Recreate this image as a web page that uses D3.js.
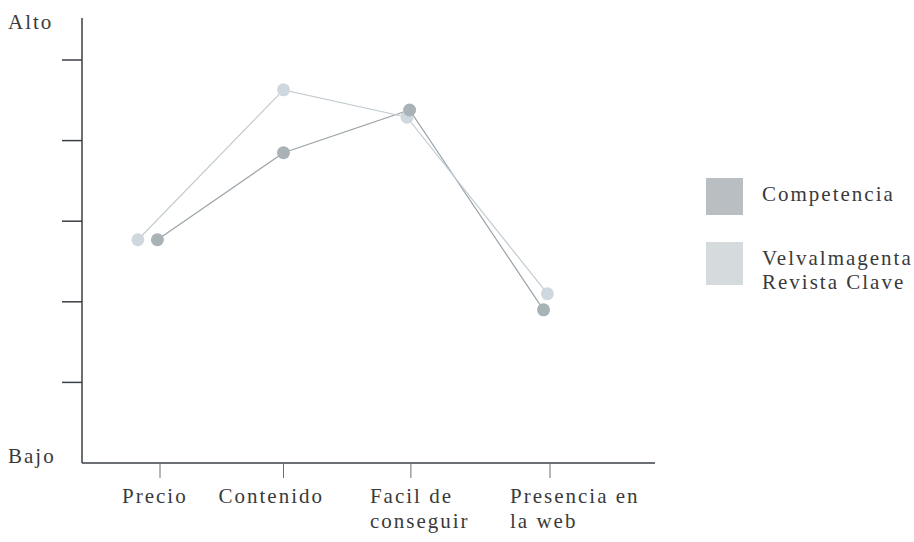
<!DOCTYPE html>
<html>
<head>
<meta charset="utf-8">
<script src="https://cdn.jsdelivr.net/npm/d3@7"></script>
<style>
  body { margin: 0; background: #fff; }
  text { font-family: 'Liberation Serif', 'DejaVu Serif', serif; fill: #3a3a3a; letter-spacing: 2px; }
</style>
</head>
<body>
<div id="chart"></div>
<script>
// categories and where their ticks sit on the x scale
const categories = [['Precio'], ['Contenido'], ['Facil de', 'conseguir'], ['Presencia en', 'la web']]
const categoryPos = [1, 1.95, 2.93, 4]

// series (x in category units, y on a 0 = Bajo .. 5.5 = Alto scale)
const seriesNames = ['Competencia', 'Velvalmagenta Revista Clave']
const competenciaX = [0.98, 1.95, 2.92, 3.95]
const competenciaY = [2.77, 3.85, 4.38, 1.9]
const velvaX = [0.83, 1.95, 2.9, 3.98]
const velvaY = [2.77, 4.63, 4.29, 2.1]

const yTicks = [1, 2, 3, 4, 5]

const width = 914
const height = 542
const fontSize = 21

const svg = d3
  .select('#chart')
  .append('svg')
  .attr('width', width)
  .attr('height', height)

const x = d3.scaleLinear().domain([1, 4]).range([160, 550])
const y = d3.scaleLinear().domain([0, 5]).range([463, 60])

const axisLeft = 82
const axisRight = 655
const axisTop = y(5.52)

// axes
svg.append('line')
  .attr('x1', axisLeft).attr('x2', axisLeft)
  .attr('y1', axisTop).attr('y2', y(0))
  .attr('stroke', '#3a3f44').attr('stroke-width', 1.5)

svg.append('line')
  .attr('x1', axisLeft).attr('x2', axisRight)
  .attr('y1', y(0)).attr('y2', y(0))
  .attr('stroke', '#3a3f44').attr('stroke-width', 1.5)

svg.selectAll('.ytick')
  .data(yTicks)
  .enter()
  .append('line')
  .attr('class', 'ytick')
  .attr('x1', axisLeft - 20).attr('x2', axisLeft)
  .attr('y1', d => y(d)).attr('y2', d => y(d))
  .attr('stroke', '#3a3f44').attr('stroke-width', 1.5)

svg.selectAll('.xtick')
  .data(categoryPos)
  .enter()
  .append('line')
  .attr('class', 'xtick')
  .attr('x1', d => x(d)).attr('x2', d => x(d))
  .attr('y1', y(0)).attr('y2', y(0) + 15)
  .attr('stroke', '#6a7075').attr('stroke-width', 1)

svg.append('text').text('Alto')
  .attr('x', 8).attr('y', 29).attr('font-size', fontSize)
svg.append('text').text('Bajo')
  .attr('x', 8).attr('y', 463).attr('font-size', fontSize)

// category labels, left aligned a bit before their tick
const labelDx = [-38, -65, -41, -40]
categories.forEach((lines, i) => {
  const t = svg.append('text')
    .attr('x', x(categoryPos[i]) + labelDx[i])
    .attr('y', 503)
    .attr('font-size', fontSize)
  lines.forEach((l, j) => {
    t.append('tspan')
      .attr('x', x(categoryPos[i]) + labelDx[i])
      .attr('dy', j === 0 ? 0 : 25)
      .text(l)
  })
})

// series
const series = [
  { name: seriesNames[0], xs: competenciaX, ys: competenciaY, line: '#9ba3a8', fill: '#a9b2b7' },
  { name: seriesNames[1], xs: velvaX, ys: velvaY, line: '#c3ccd2', fill: '#cfd8de' }
]

const line = d3.line()
  .x(d => x(d[0]))
  .y(d => y(d[1]))

series.forEach(s => {
  const pts = s.xs.map((v, i) => [v, s.ys[i]])
  svg.append('path')
    .datum(pts)
    .attr('d', line)
    .attr('fill', 'none')
    .attr('stroke', s.line)
    .attr('stroke-width', 1.2)
})

// light series markers first, dark on top
series.slice().reverse().forEach(s => {
  const pts = s.xs.map((v, i) => [v, s.ys[i]])
  svg.selectAll(null)
    .data(pts)
    .enter()
    .append('circle')
    .attr('cx', d => x(d[0]))
    .attr('cy', d => y(d[1]))
    .attr('r', 6.5)
    .attr('fill', s.fill)
})

// legend
const legend = [
  { lines: ['Competencia'], color: '#b9bec2', y: 178, h: 37 },
  { lines: ['Velvalmagenta', 'Revista Clave'], color: '#d5dadd', y: 242, h: 43 }
]

legend.forEach(d => {
  svg.append('rect')
    .attr('x', 706).attr('y', d.y)
    .attr('width', 37).attr('height', d.h)
    .attr('fill', d.color)
  const t = svg.append('text')
    .attr('x', 762).attr('y', d.y + 23)
    .attr('font-size', fontSize)
  d.lines.forEach((l, j) => {
    t.append('tspan').attr('x', 762).attr('dy', j === 0 ? 0 : 24).text(l)
  })
})
</script>
</body>
</html>
